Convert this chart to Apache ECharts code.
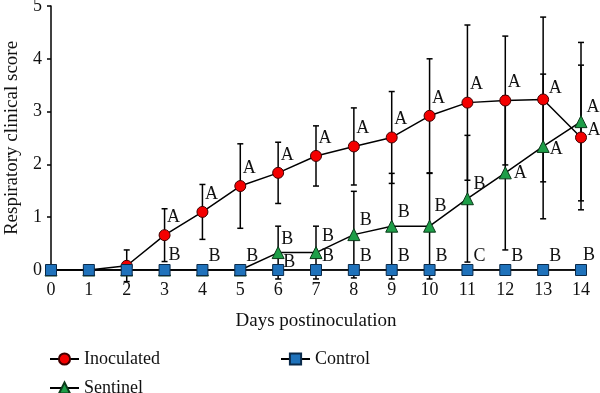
<!DOCTYPE html>
<html>
<head>
<meta charset="utf-8">
<script src="https://cdn.jsdelivr.net/npm/echarts@6/dist/echarts.min.js"></script>
<style>html,body{margin:0;padding:0;background:#fff}#c{width:600px;height:393px}</style>
</head>
<body>
<div id="c"></div>
<script>
const days = [0,1,2,3,4,5,6,7,8,9,10,11,12,13,14];
const inocMean = [0,0,0.08,0.66,1.1,1.59,1.84,2.16,2.34,2.51,2.92,3.17,3.21,3.23,2.51];
const inocErr  = [0,0,0.3,0.5,0.52,0.8,0.58,0.57,0.73,0.87,1.08,1.47,1.22,1.56,1.37];
const sentMean = [0,0,0,0,0,0,0.33,0.33,0.67,0.83,0.83,1.35,1.84,2.34,2.81];
const sentErr  = [0,0,0,0,0,0,0.5,0.5,0.82,1.0,1.0,1.2,1.46,1.37,1.5];
const ctrlMean = [0,0,0,0,0,0,0,0,0,0,0,0,0,0,0];
const inocLabels = ['','','','A','A','A','A','A','A','A','A','A','A','A','A'];
const sentLabels = ['','','','','','','B','B','B','B','B','B','A','A','A'];
const ctrlLabels = ['','','','B','B','B','B','B','B','B','B','C','B','B','B'];
const yTicks = [0,1,2,3,4,5];

const FONT = 'Liberation Serif';

// label offsets (style)
const inocOff = {default:[9,-18], 13:[12,-11], 14:[13,-7]};
const sentOff = {default:[12,-14], 7:[12,-16], 10:[11,-20], 12:[15,0], 13:[13,3], 6:[9,-13]};
const ctrlOff = {default:[12,-14], 6:[11,-8], 14:[8,-15], 3:[10,-15]};

function buildData(mean, labels, off) {
  return days.map((d, i) => ({
    value: [d, mean[i]],
    label: {
      show: labels[i] !== '',
      formatter: labels[i],
      offset: off[i] || off.default
    }
  }));
}

function errData(mean, err) {
  return days.map((d, i) => [d, mean[i], err[i]]);
}

function errSeries(mean, err, z) {
  return {
    type: 'custom',
    clip: false,
    z: z,
    silent: true,
    data: errData(mean, err),
    encode: {x: 0, y: 1},
    renderItem: function (params, api) {
      const x = api.value(0), m = api.value(1), e = api.value(2);
      if (!e) return null;
      const hi = api.coord([x, m + e]);
      const lo = api.coord([x, m - e]);
      const w = 3;
      const st = {stroke: '#000', lineWidth: 1.5};
      return {
        type: 'group',
        children: [
          {type: 'line', shape: {x1: hi[0], y1: hi[1], x2: lo[0], y2: lo[1]}, style: st},
          {type: 'line', shape: {x1: hi[0]-w, y1: hi[1], x2: hi[0]+w, y2: hi[1]}, style: st},
          {type: 'line', shape: {x1: lo[0]-w, y1: lo[1], x2: lo[0]+w, y2: lo[1]}, style: st}
        ]
      };
    }
  };
}

const labelStyle = {position: 'inside', color: '#111', fontFamily: FONT, fontSize: 18};
const legendBase = {
  orient: 'horizontal', itemWidth: 29, itemHeight: 14, itemTextGap: 10,
  textStyle: {fontFamily: FONT, fontSize: 18, color: '#111'}
};

const chart = echarts.init(document.getElementById('c'), null, {renderer: 'canvas'});
chart.setOption({
  animation: false,
  backgroundColor: '#fff',
  textStyle: {fontFamily: FONT},
  grid: {left: 51, right: 19, top: 6, bottom: 123, containLabel: false, outerBoundsMode: 'none'},
  xAxis: {
    type: 'value', min: 0, max: 14, interval: 1,
    name: 'Days postinoculation', nameLocation: 'middle', nameGap: 42,
    nameTextStyle: {fontFamily: FONT, fontSize: 19, color: '#111'},
    axisLine: {show: true, onZero: false, lineStyle: {color: '#000', width: 1.5}},
    axisTick: {show: false},
    axisLabel: {fontFamily: FONT, fontSize: 18, color: '#111', margin: 11},
    splitLine: {show: false}
  },
  yAxis: {
    type: 'value', min: 0, max: 5, interval: 1,
    name: 'Respiratory clinical score', nameLocation: 'middle', nameGap: 29,
    nameTextStyle: {fontFamily: FONT, fontSize: 19, color: '#111'},
    axisLine: {show: true, lineStyle: {color: '#000', width: 1.5}},
    axisTick: {show: true, length: 4, lineStyle: {color: '#000', width: 1.5}},
    axisLabel: {fontFamily: FONT, fontSize: 18, color: '#111', margin: 9,
      formatter: v => yTicks.includes(v) ? String(v) : ''},
    splitLine: {show: false}
  },
  legend: [
    Object.assign({data: ['Inoculated'], left: 44, top: 345}, legendBase),
    Object.assign({data: ['Sentinel'], left: 44, top: 374}, legendBase),
    Object.assign({data: ['Control'], left: 275, top: 345}, legendBase)
  ],
  series: [
    errSeries(inocMean, inocErr, 1),
    errSeries(sentMean, sentErr, 1),
    {
      name: 'Inoculated', type: 'line', z: 3,
      data: buildData(inocMean, inocLabels, inocOff),
      symbol: 'circle', symbolSize: 11,
      lineStyle: {color: '#000', width: 1.5},
      itemStyle: {color: '#f40000', borderColor: '#400000', borderWidth: 1},
      label: labelStyle
    },
    {
      name: 'Sentinel', type: 'line', z: 4,
      data: buildData(sentMean, sentLabels, sentOff),
      symbol: 'triangle', symbolSize: 12,
      lineStyle: {color: '#000', width: 1.5},
      itemStyle: {color: '#1e9e48', borderColor: '#0b3a1a', borderWidth: 1},
      label: labelStyle
    },
    {
      name: 'Control', type: 'line', z: 5,
      data: buildData(ctrlMean, ctrlLabels, ctrlOff),
      symbol: 'rect', symbolSize: 11,
      lineStyle: {color: '#000', width: 1.5},
      itemStyle: {color: '#1f72bb', borderColor: '#0a2a4a', borderWidth: 1},
      label: labelStyle
    }
  ]
});
</script>
</body>
</html>
